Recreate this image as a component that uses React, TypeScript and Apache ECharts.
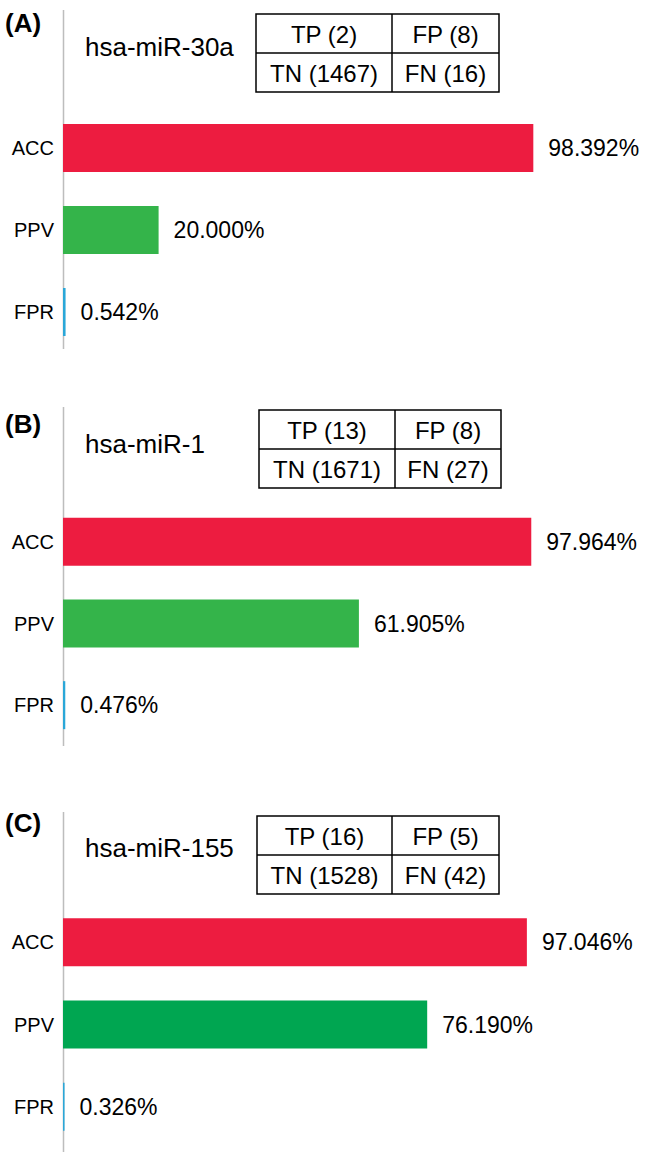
import React, { useEffect, useRef } from "react";
import * as echarts from "echarts";

const metrics = ["ACC", "PPV", "FPR"];
const panelLabels = ["(A)", "(B)", "(C)"];
const mirnaNames = ["hsa-miR-30a", "hsa-miR-1", "hsa-miR-155"];
const accValues = [98.392, 97.964, 97.046];
const ppvValues = [20.0, 61.905, 76.19];
const fprValues = [0.542, 0.476, 0.326];
const tpCounts = [2, 13, 16];
const fpCounts = [8, 8, 5];
const tnCounts = [1467, 1671, 1528];
const fnCounts = [16, 27, 42];

// layout (pixels)
const AXIS_X = 63;
const PLOT_W = 478;
const gridTops = [107, 501, 901];
const gridHeights = [246, 245, 247];
const axisTops = [10, 407, 812];
const axisBottoms = [349, 746, 1152];
const panelLabelY = [23, 424, 823];
const titleY = [47, 444, 848];
const tables = [
  { x: 256, y: 14, w: 243, h: 78, split: 136 },
  { x: 259, y: 410, w: 242, h: 78, split: 136 },
  { x: 257, y: 816, w: 242, h: 78, split: 135 },
];
const accColor = "#ED1C40";
const ppvColors = ["#34B44A", "#34B44A", "#00A651"];
const fprColor = "#2AA7D8";
const FONT = "Liberation Sans, Arial, sans-serif";

export default function App() {
  const ref = useRef<HTMLDivElement>(null);
  useEffect(() => {
    document.body.style.margin = "0";
    const chart = echarts.init(ref.current!, null, { renderer: "svg" });
    const grids: any[] = [];
    const xAxes: any[] = [];
    const yAxes: any[] = [];
    const series: any[] = [];
    const graphics: any[] = [];
    for (let i = 0; i < 3; i++) {
      grids.push({ left: AXIS_X, top: gridTops[i], width: PLOT_W, height: gridHeights[i] });
      xAxes.push({
        type: "value", gridIndex: i, min: 0, max: 100, show: false,
      });
      yAxes.push({
        type: "category", gridIndex: i, data: metrics, inverse: true,
        axisLine: { show: false }, axisTick: { show: false },
        axisLabel: { fontSize: 20, color: "#000", margin: 9, fontFamily: FONT },
      });
      const vals = [accValues[i], ppvValues[i], fprValues[i]];
      const cols = [accColor, ppvColors[i], fprColor];
      series.push({
        type: "bar", xAxisIndex: i, yAxisIndex: i, barWidth: 48,
        data: vals.map((v, k) => ({ value: v, itemStyle: { color: cols[k] } })),
        label: {
          show: true, position: "right", distance: 15, fontSize: 23, color: "#000",
          fontFamily: FONT,
          formatter: (p: any) => Number(p.value).toFixed(3) + "%",
        },
        z: 3,
      });
      graphics.push({
        type: "line", z: 1,
        shape: { x1: AXIS_X + 0.5, y1: axisTops[i], x2: AXIS_X + 0.5, y2: axisBottoms[i] },
        style: { stroke: "#BDBDBD", lineWidth: 1.5 },
      });
      graphics.push({
        type: "text", left: 5, top: panelLabelY[i] - 13,
        style: { text: panelLabels[i], fontSize: 26, fontWeight: "bold", fill: "#000", fontFamily: FONT },
      });
      graphics.push({
        type: "text", x: 85, y: titleY[i],
        style: {
          text: mirnaNames[i], fontSize: 26, fill: "#000", fontFamily: FONT,
          textVerticalAlign: "middle", verticalAlign: "middle",
        },
      });
      const t = tables[i];
      const cells = [
        { t: `TP (${tpCounts[i]})`, cx: t.x + t.split / 2, cy: t.y + t.h / 4 },
        { t: `FP (${fpCounts[i]})`, cx: t.x + t.split + (t.w - t.split) / 2, cy: t.y + t.h / 4 },
        { t: `TN (${tnCounts[i]})`, cx: t.x + t.split / 2, cy: t.y + (3 * t.h) / 4 },
        { t: `FN (${fnCounts[i]})`, cx: t.x + t.split + (t.w - t.split) / 2, cy: t.y + (3 * t.h) / 4 },
      ];
      graphics.push({
        type: "rect", shape: { x: t.x, y: t.y, width: t.w, height: t.h },
        style: { fill: "#fff", stroke: "#000", lineWidth: 1.5 },
      });
      graphics.push({
        type: "line", shape: { x1: t.x, y1: t.y + t.h / 2, x2: t.x + t.w, y2: t.y + t.h / 2 },
        style: { stroke: "#000", lineWidth: 1.5 },
      });
      graphics.push({
        type: "line", shape: { x1: t.x + t.split, y1: t.y, x2: t.x + t.split, y2: t.y + t.h },
        style: { stroke: "#000", lineWidth: 1.5 },
      });
      cells.forEach((c) => {
        graphics.push({
          type: "text", x: c.cx, y: c.cy + 1,
          style: {
            text: c.t, fontSize: 24, fill: "#000", fontFamily: FONT,
            align: "center", verticalAlign: "middle",
            textAlign: "center", textVerticalAlign: "middle",
          },
        });
      });
    }
    chart.setOption({
      animation: false,
      backgroundColor: "#fff",
      grid: grids,
      xAxis: xAxes,
      yAxis: yAxes,
      series,
      graphic: graphics,
    });
    return () => chart.dispose();
  }, []);
  return <div ref={ref} style={{ width: 647, height: 1158 }} />;
}
